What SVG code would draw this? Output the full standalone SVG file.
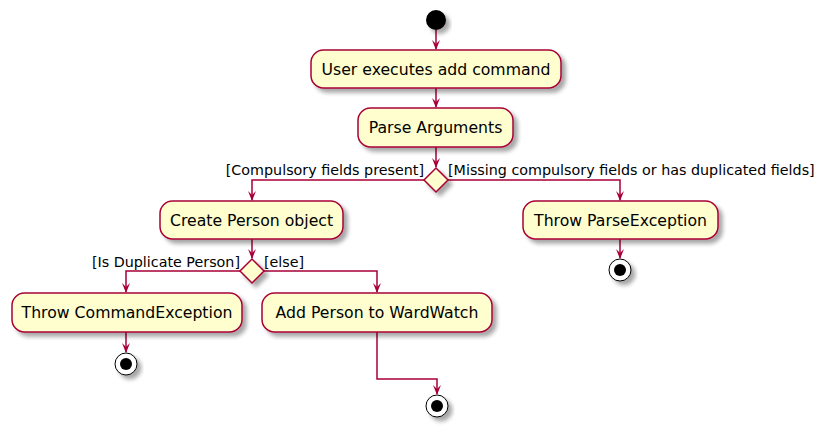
<svg xmlns="http://www.w3.org/2000/svg" width="827" height="432" viewBox="0 0 827 432">
<defs>
<filter id="sh" x="-20%" y="-20%" width="150%" height="160%">
<feGaussianBlur in="SourceAlpha" stdDeviation="2"/>
<feOffset dx="4" dy="4" result="b"/>
<feComponentTransfer><feFuncA type="linear" slope="0.35"/></feComponentTransfer>
<feMerge><feMergeNode/><feMergeNode in="SourceGraphic"/></feMerge>
</filter>
<marker id="ah" viewBox="0 0 10 10" refX="9" refY="5" markerWidth="10" markerHeight="10" markerUnits="userSpaceOnUse" orient="auto">
<path d="M0,1 L10,5 L0,9 L4,5 Z" fill="#A80036"/>
</marker>
</defs>
<style>
.act{fill:#FEFECE;stroke:#A80036;stroke-width:1.5}
.dia{fill:#FEFECE;stroke:#A80036;stroke-width:1.5}
.t{font-family:"DejaVu Sans",sans-serif;font-size:15.7px;fill:#000;text-anchor:middle}
.l{font-family:"DejaVu Sans",sans-serif;font-size:14.3px;fill:#000}
.c{fill:none;stroke:#A80036;stroke-width:1.5}
.endo{fill:#fff;stroke:#000;stroke-width:1}
</style>
<rect width="827" height="432" fill="#fff"/>
<g id="connectors">
<path class="c" d="M436,30 V49" marker-end="url(#ah)"/>
<path class="c" d="M436,88 V107" marker-end="url(#ah)"/>
<path class="c" d="M436,147 V167" marker-end="url(#ah)"/>
<path class="c" d="M424,180 H252 V200" marker-end="url(#ah)"/>
<path class="c" d="M448,180 H620 V200" marker-end="url(#ah)"/>
<path class="c" d="M620,239 V258" marker-end="url(#ah)"/>
<path class="c" d="M252,239 V258" marker-end="url(#ah)"/>
<path class="c" d="M240,271 H126 V292" marker-end="url(#ah)"/>
<path class="c" d="M264,271 H377 V292" marker-end="url(#ah)"/>
<path class="c" d="M126,332 V352" marker-end="url(#ah)"/>
<path class="c" d="M377,332 V379 H437 V394" marker-end="url(#ah)"/>
<text class="l" x="424" y="175" text-anchor="end">[Compulsory fields present]</text>
<text class="l" x="448" y="175">[Missing compulsory fields or has duplicated fields]</text>
<text class="l" x="240" y="267" text-anchor="end">[Is Duplicate Person]</text>
<text class="l" x="264" y="267">[else]</text>
</g>
<g id="start"><circle cx="436" cy="20" r="10" fill="#000" filter="url(#sh)"/></g>
<g id="userExecutes"><rect class="act" x="311" y="50" width="250" height="38" rx="12.5" filter="url(#sh)"/><text class="t" x="436" y="75">User executes add command</text></g>
<g id="parseArguments"><rect class="act" x="358" y="108" width="155" height="39" rx="12.5" filter="url(#sh)"/><text class="t" x="435.5" y="133">Parse Arguments</text></g>
<g id="decision1"><polygon class="dia" points="436,168 448,180 436,192 424,180" filter="url(#sh)"/></g>
<g id="createPerson"><rect class="act" x="160" y="201" width="183" height="38" rx="12.5" filter="url(#sh)"/><text class="t" x="251.5" y="226">Create Person object</text></g>
<g id="throwParse"><rect class="act" x="523" y="201" width="195" height="38" rx="12.5" filter="url(#sh)"/><text class="t" x="620.5" y="226">Throw ParseException</text></g>
<g id="endParse"><circle class="endo" cx="620" cy="270" r="11" filter="url(#sh)"/><circle cx="620" cy="270" r="6" fill="#000"/></g>
<g id="decision2"><polygon class="dia" points="252,259 264,271 252,283 240,271" filter="url(#sh)"/></g>
<g id="throwCommand"><rect class="act" x="12" y="293" width="230" height="39" rx="12.5" filter="url(#sh)"/><text class="t" x="127" y="318">Throw CommandException</text></g>
<g id="endCommand"><circle class="endo" cx="126" cy="364" r="11" filter="url(#sh)"/><circle cx="126" cy="364" r="6" fill="#000"/></g>
<g id="addPerson"><rect class="act" x="262" y="293" width="230" height="39" rx="12.5" filter="url(#sh)"/><text class="t" x="377" y="318">Add Person to WardWatch</text></g>
<g id="endAdd"><circle class="endo" cx="437" cy="406" r="11" filter="url(#sh)"/><circle cx="437" cy="406" r="6" fill="#000"/></g>
</svg>
